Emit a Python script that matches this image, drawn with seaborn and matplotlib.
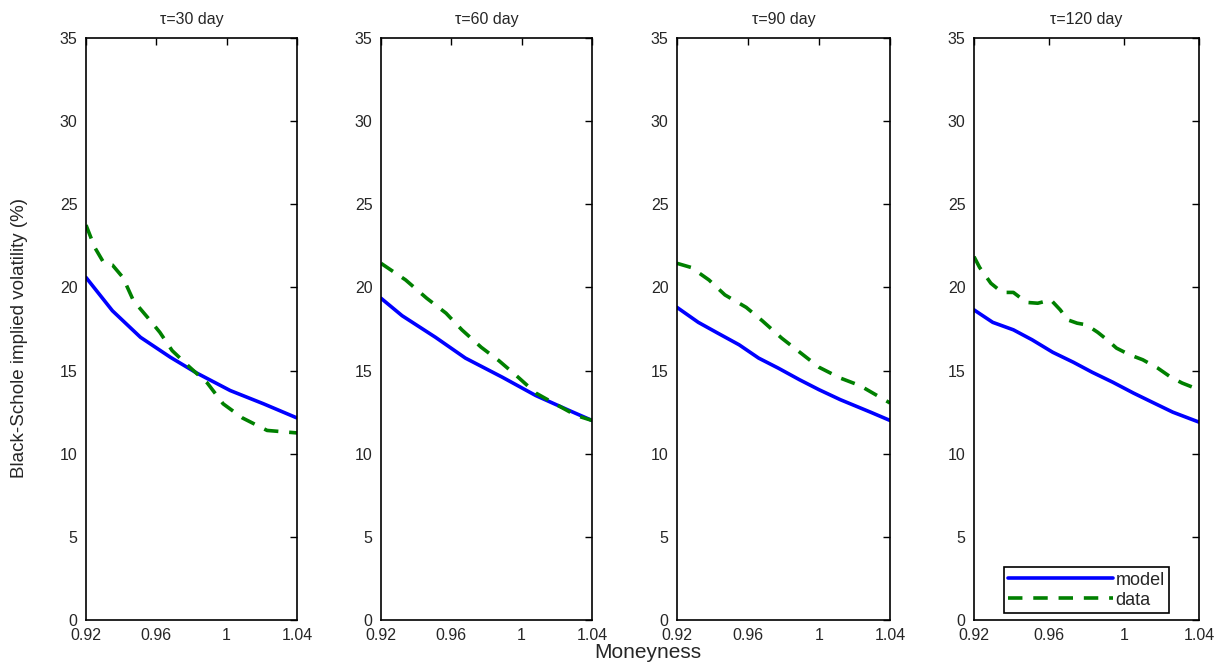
import numpy as np
import pandas as pd
import seaborn as sns
import matplotlib
matplotlib.use('Agg')
import matplotlib.pyplot as plt

# maturities shown in the four panels
maturities = [30, 60, 90, 120]

# model curves (moneyness, implied vol %)
model_x_30 = [0.92, 0.935, 0.951, 0.968, 0.983, 1.002, 1.021, 1.04]
model_y_30 = [20.6, 18.6, 17.0, 15.8, 14.85, 13.8, 13.0, 12.15]
model_x_60 = [0.92, 0.932, 0.951, 0.968, 0.989, 1.008, 1.027, 1.04]
model_y_60 = [19.35, 18.3, 17.0, 15.75, 14.6, 13.5, 12.6, 12.0]
model_x_90 = [0.92, 0.932, 0.943, 0.955, 0.966, 0.977, 0.989, 1.0, 1.012, 1.029, 1.04]
model_y_90 = [18.8, 17.9, 17.25, 16.55, 15.75, 15.15, 14.45, 13.85, 13.25, 12.5, 12.0]
model_x_120 = [0.92, 0.930, 0.941, 0.951, 0.962, 0.973, 0.983, 0.994, 1.005, 1.015, 1.026, 1.04]
model_y_120 = [18.65, 17.9, 17.45, 16.85, 16.1, 15.5, 14.9, 14.3, 13.65, 13.1, 12.5, 11.9]

# observed data curves
data_x_30 = [0.92, 0.925, 0.930, 0.935, 0.941, 0.947, 0.955, 0.962, 0.969, 0.979,
             0.989, 0.998, 1.009, 1.023, 1.04]
data_y_30 = [23.75, 22.4, 21.5, 21.35, 20.6, 19.2, 18.2, 17.3, 16.2, 15.2,
             14.25, 13.0, 12.15, 11.4, 11.25]
data_x_60 = [0.92, 0.934, 0.946, 0.957, 0.966, 0.977, 0.987, 0.998, 1.008, 1.019, 1.031, 1.04]
data_y_60 = [21.45, 20.45, 19.35, 18.45, 17.45, 16.4, 15.6, 14.6, 13.65, 13.0, 12.3, 12.0]
data_x_90 = [0.92, 0.928, 0.938, 0.947, 0.959, 0.968, 0.979, 0.991, 1.0, 1.012, 1.023, 1.04]
data_y_90 = [21.45, 21.2, 20.45, 19.55, 18.8, 18.0, 16.95, 15.95, 15.2, 14.55, 14.1, 13.05]
data_x_120 = [0.92, 0.923, 0.929, 0.935, 0.941, 0.948, 0.954, 0.961, 0.966, 0.970, 0.975,
              0.980, 0.986, 0.991, 0.996, 1.003, 1.010, 1.018, 1.025, 1.031, 1.04]
data_y_120 = [21.85, 21.2, 20.25, 19.7, 19.7, 19.1, 19.05, 19.25, 18.65, 18.05, 17.85,
              17.75, 17.3, 16.85, 16.35, 15.95, 15.65, 15.15, 14.6, 14.25, 13.85]

model_x = [model_x_30, model_x_60, model_x_90, model_x_120]
model_y = [model_y_30, model_y_60, model_y_90, model_y_120]
data_x = [data_x_30, data_x_60, data_x_90, data_x_120]
data_y = [data_y_30, data_y_60, data_y_90, data_y_120]

x_ticks = [0.92, 0.96, 1.0, 1.04]
x_ticklabels = ['0.92', '0.96', '1', '1.04']
y_ticks = [0, 5, 10, 15, 20, 25, 30, 35]

sns.set_style('white')
plt.rcParams['font.family'] = ['Liberation Sans', 'DejaVu Sans']

fig = plt.figure(figsize=(12.28, 6.67), dpi=100)

lefts = [86, 381, 677, 974]
widths = [211, 211, 213, 225]
bottom = 1 - 620 / 667
height = (620 - 38) / 667

for i, tau in enumerate(maturities):
    ax = fig.add_axes([lefts[i] / 1228, bottom, widths[i] / 1228, height])
    sns.lineplot(x=model_x[i], y=model_y[i], ax=ax, color='#0000ff', lw=2.6,
                 label='model', estimator=None, sort=False)
    sns.lineplot(x=data_x[i], y=data_y[i], ax=ax, color='#008000', lw=2.6,
                 label='data', estimator=None, sort=False, dashes=False)
    ax.lines[-1].set_dashes((4.0, 3.0))
    ax.set_xlim(0.92, 1.04)
    ax.set_ylim(0, 35)
    ax.set_xticks(x_ticks)
    ax.set_xticklabels(x_ticklabels)
    ax.set_yticks(y_ticks)
    ax.tick_params(direction='in', length=5, width=1, top=True, right=True,
                   labelsize=11.5, pad=6, color='black')
    for sp in ax.spines.values():
        sp.set_color('black')
        sp.set_linewidth(1.2)
    ax.set_title('τ=%d day' % tau, fontsize=11.5, pad=10)
    if i < 3:
        ax.get_legend().remove()
    else:
        leg = ax.legend(loc='lower center', bbox_to_anchor=(0.5, 0.012),
                        handlelength=5.8, fontsize=13, fancybox=False,
                        framealpha=1, edgecolor='black', borderpad=0.25,
                        labelspacing=0.15, handletextpad=0.15, borderaxespad=0)
        leg.get_frame().set_linewidth(1.2)

fig.text(20 / 1228, 1 - 338 / 667, 'Black-Schole implied volatility (%)',
         rotation=90, va='center', ha='center', fontsize=13.5)
fig.text(648 / 1228, 1 - 652 / 667, 'Moneyness', va='center', ha='center',
         fontsize=15)

fig.savefig('out.png', dpi=100)
